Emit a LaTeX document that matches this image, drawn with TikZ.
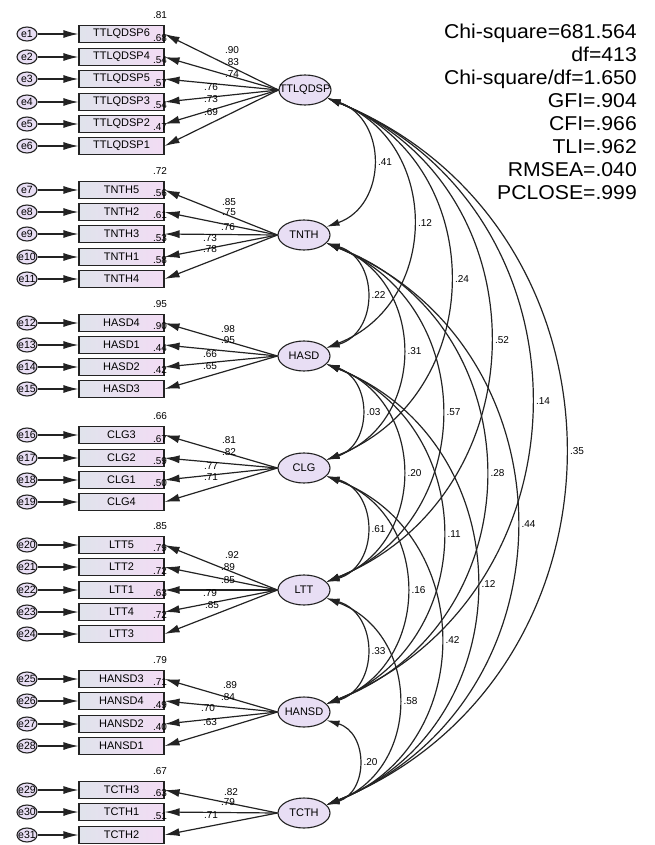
\documentclass[tikz,border=0pt]{standalone}
\usepackage{fontspec}
\setmainfont{Liberation Sans}
\newfontfamily\statfont[FakeStretch=1.06]{Liberation Sans}
\usetikzlibrary{arrows.meta,shapes.geometric,calc}

\definecolor{boxleft}{RGB}{224,227,236}
\definecolor{boxright}{RGB}{242,220,244}
\definecolor{latfill}{RGB}{232,222,244}
\definecolor{inkgray}{RGB}{35,35,35}

% covariance arc: upper latent, lower latent, x of the bulge, value
\newcommand{\covarc}[4]{%
  \draw[cov] let \p1=(#1.-20), \p2=(#2.20),
    \n1={(\y1-\y2)/2}, \n2={#3*1pt-\x1},
    \n3={2*atan(\n2/\n1)}, \n4={4/3*\n2/sin(\n3)} in
    (\p1) .. controls ({\x1+\n4*sin(\n3)*1pt},{\y1-\n4*cos(\n3)*1pt})
    and ({\x2+\n4*sin(\n3)*1pt},{\y2+\n4*cos(\n3)*1pt}) .. (\p2)
    node[val, pos=.5, anchor=west, xshift=5pt] {#4};}

\def\itemlist{TTLQDSP6/34/1/TTLQDSP/.81, TTLQDSP4/57/2/TTLQDSP/.68,
  TTLQDSP5/79/3/TTLQDSP/.54, TTLQDSP3/102/4/TTLQDSP/.57,
  TTLQDSP2/124/5/TTLQDSP/.54, TTLQDSP1/146/6/TTLQDSP/.47,
  TNTH5/190/7/TNTH/.72, TNTH2/212/8/TNTH/.56, TNTH3/234/9/TNTH/.61,
  TNTH1/257/10/TNTH/.53, TNTH4/279/11/TNTH/.58,
  HASD4/323/12/HASD/.95, HASD1/345/13/HASD/.90, HASD2/367/14/HASD/.44,
  HASD3/389/15/HASD/.42,
  CLG3/435/16/CLG/.66, CLG2/458/17/CLG/.67, CLG1/480/18/CLG/.59,
  CLG4/502/19/CLG/.50,
  LTT5/545/20/LTT/.85, LTT2/567/21/LTT/.79, LTT1/590/22/LTT/.72,
  LTT4/612/23/LTT/.63, LTT3/634/24/LTT/.72,
  HANSD3/679/25/HANSD/.79, HANSD4/701/26/HANSD/.71, HANSD2/724/27/HANSD/.49,
  HANSD1/746/28/HANSD/.40,
  TCTH3/790/29/TCTH/.67, TCTH1/812/30/TCTH/.63, TCTH2/835/31/TCTH/.51}

\begin{document}
\begin{tikzpicture}[x=1pt, y=-1pt,
  item/.style={rectangle, draw=inkgray, line width=1.1pt, left color=boxleft, right color=boxright,
    minimum width=85pt, minimum height=17pt, inner sep=0pt, font=\fontsize{11}{11}\selectfont},
  err/.style={ellipse, draw=inkgray, line width=1.1pt, fill=latfill, minimum width=20pt,
    minimum height=14pt, inner sep=0pt, label={[font=\fontsize{10.5}{10.5}\selectfont]center:#1}},
  latent/.style={ellipse, draw=inkgray, line width=1.1pt, fill=latfill, minimum width=52pt,
    minimum height=30pt, inner sep=0pt, label={[font=\fontsize{11}{11}\selectfont]center:#1}},
  val/.style={font=\fontsize{10}{10}\selectfont, inner sep=0pt},
  load/.style={draw=inkgray, line width=1.2pt, -{Latex[length=15pt,width=8pt]}},
  cov/.style={draw=inkgray, line width=1.2pt, {Latex[length=13pt,width=7pt]}-{Latex[length=13pt,width=7pt]}}
]
\useasboundingbox (0,0) rectangle (654,845);

% latent factors
\node[latent=TTLQDSP] (TTLQDSP) at (305,90) {};
\node[latent=TNTH] (TNTH) at (304,235) {};
\node[latent=HASD] (HASD) at (304,356) {};
\node[latent=CLG] (CLG) at (304,468) {};
\node[latent=LTT] (LTT) at (304,590) {};
\node[latent=HANSD] (HANSD) at (304,712) {};
\node[latent=TCTH] (TCTH) at (304,813) {};

% observed items, errors and R^2
\foreach \nm/\yy/\ek/\lat/\rs in \itemlist {
  \node[item] (\nm) at (121.5,\yy) {\nm};
  \node[err=e\ek] (e\ek) at (27,\yy) {};
  \node[val] at (160,\yy-18.5) {\rs};
}
\foreach \nm/\yy/\ek/\lat/\rs in \itemlist {
  \draw[load] (e\ek) -- (\nm);
  \draw[load] (\lat.west) -- (\nm.east);
}

% loadings
\foreach \wt/\xx/\yy in {.90/232/50, .83/232/62, .74/232/74, .76/211/87, .73/211/99, .69/211/112,
  .85/229/202, .75/229/212, .76/228/227, .73/210/238, .78/210/249,
  .98/228/329, .95/228/340, .66/210/354, .65/210/366,
  .81/229/440, .82/229/452, .77/211/466, .71/211/477,
  .92/232/555, .89/228/567, .85/228/580, .79/210/593, .85/212/605,
  .89/230/685, .84/228/697, .70/208/708, .63/210/722,
  .82/231/792, .79/228/802, .71/211/815}
  \node[val] at (\xx,\yy) {\wt};

% correlations
\covarc{TTLQDSP}{TNTH}{373}{.41}
\covarc{TTLQDSP}{HASD}{413}{.12}
\covarc{TTLQDSP}{CLG}{450}{.24}
\covarc{TTLQDSP}{LTT}{490}{.52}
\covarc{TTLQDSP}{HANSD}{531}{.14}
\covarc{TTLQDSP}{TCTH}{565}{.35}
\covarc{TNTH}{HASD}{366}{.22}
\covarc{TNTH}{CLG}{402}{.31}
\covarc{TNTH}{LTT}{441}{.57}
\covarc{TNTH}{HANSD}{485}{.28}
\covarc{TNTH}{TCTH}{516}{.44}
\covarc{HASD}{CLG}{361}{.03}
\covarc{HASD}{LTT}{402}{.20}
\covarc{HASD}{HANSD}{442}{.11}
\covarc{HASD}{TCTH}{476}{.12}
\covarc{CLG}{LTT}{366}{.61}
\covarc{CLG}{HANSD}{406}{.16}
\covarc{CLG}{TCTH}{440}{.42}
\covarc{LTT}{HANSD}{366}{.33}
\covarc{LTT}{TCTH}{398}{.58}
\covarc{HANSD}{TCTH}{358}{.20}

% fit indices
\node[anchor=north east, align=right, inner sep=0pt, font=\statfont\fontsize{20}{23}\selectfont] (fitstats) at (637,24)
  {Chi-square=681.564\\df=413\\Chi-square/df=1.650\\GFI=.904\\CFI=.966\\TLI=.962\\RMSEA=.040\\PCLOSE=.999};
\end{tikzpicture}
\end{document}
